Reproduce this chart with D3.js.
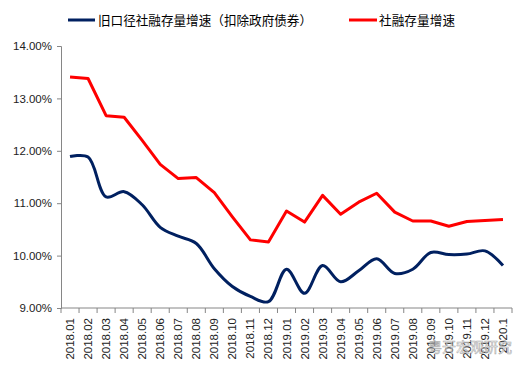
<!DOCTYPE html>
<html><head><meta charset="utf-8">
<script src="https://cdn.jsdelivr.net/npm/d3@7/dist/d3.min.js"></script>
<style>body{margin:0;background:#fff}svg{display:block}</style>
</head><body>
<svg id="c" width="526" height="370"></svg>
<script>
const categories = ["2018.01","2018.02","2018.03","2018.04","2018.05","2018.06","2018.07","2018.08","2018.09","2018.10","2018.11","2018.12",
"2019.01","2019.02","2019.03","2019.04","2019.05","2019.06","2019.07","2019.08","2019.09","2019.10","2019.11","2019.12","2020.1"];
const oldCaliber = [11.89,11.88,11.12,11.22,10.97,10.54,10.37,10.23,9.75,9.41,9.22,9.12,
9.74,9.28,9.81,9.50,9.71,9.94,9.66,9.74,10.06,10.02,10.03,10.09,9.81];
const tsfGrowth = [13.41,13.38,12.67,12.64,12.20,11.74,11.47,11.49,11.20,10.74,10.30,10.26,
10.85,10.64,11.15,10.79,11.02,11.19,10.83,10.66,10.66,10.56,10.65,10.67,10.69];
const yTicks = [9,10,11,12,13,14];
const seriesNames = ["旧口径社融存量增速（扣除政府债券）","社融存量增速"];

const svg = d3.select("#c");
const x = d3.scaleBand().domain(categories).range([61,512]).padding(0);
const y = d3.scaleLinear().domain([9,14]).range([308,46]);
const axisColor = "#868686";
const font = "'Liberation Sans', Arial, sans-serif";

// y axis
const ya = svg.append("g").attr("transform","translate(61,0)")
  .call(d3.axisLeft(y).tickValues(yTicks).tickSize(4).tickPadding(5).tickFormat(d=>d3.format(".2f")(d)+"%"));
ya.select(".domain").attr("stroke",axisColor);
ya.selectAll(".tick line").attr("stroke",axisColor);
ya.selectAll("text").attr("font-family",font).attr("font-size","11.5px").attr("fill","#222");

// x axis
const xa = svg.append("g").attr("transform","translate(0,308)");
xa.append("line").attr("x1",61).attr("x2",512).attr("stroke",axisColor);
const bounds = categories.map(c=>x(c)).concat([x(categories[categories.length-1])+x.bandwidth()]);
xa.selectAll(".tk").data(bounds).join("line").attr("x1",d=>d).attr("x2",d=>d).attr("y1",0).attr("y2",5).attr("stroke",axisColor);
xa.selectAll(".lb").data(categories).join("text")
  .attr("transform",d=>`translate(${x(d)+x.bandwidth()/2+4},10) rotate(-90)`)
  .attr("text-anchor","end").attr("font-family",font).attr("font-size","11.5px").attr("fill","#222").text(d=>d);

// lines
const lineSmooth = d3.line().x((d,i)=>x(categories[i])+x.bandwidth()/2).y(d=>y(d)).curve(d3.curveCatmullRom.alpha(0.5));
const lineStraight = d3.line().x((d,i)=>x(categories[i])+x.bandwidth()/2).y(d=>y(d));
svg.append("path").datum(tsfGrowth).attr("d",lineStraight).attr("fill","none").attr("stroke","#FF0000").attr("stroke-width",3).attr("stroke-linejoin","round");
svg.append("path").datum(oldCaliber).attr("d",lineSmooth).attr("fill","none").attr("stroke","#002060").attr("stroke-width",3).attr("stroke-linejoin","round");

// legend
const cjk = "'Noto Sans CJK SC', sans-serif";
const lg = svg.append("g");
lg.append("line").attr("x1",68).attr("x2",95).attr("y1",20).attr("y2",20).attr("stroke","#002060").attr("stroke-width",3);
lg.append("text").attr("x",98).attr("y",24.5).attr("font-family",cjk).attr("font-size","12.6px").attr("fill","#000")
  .attr("textLength",214).attr("lengthAdjust","spacing").text(seriesNames[0]);
lg.append("line").attr("x1",349).attr("x2",377).attr("y1",20).attr("y2",20).attr("stroke","#FF0000").attr("stroke-width",3);
lg.append("text").attr("x",379).attr("y",24.5).attr("font-family",cjk).attr("font-size","12.6px").attr("fill","#000")
  .attr("textLength",76).attr("lengthAdjust","spacing").text(seriesNames[1]);

// watermark
svg.append("text").attr("x",428).attr("y",352).attr("font-family",cjk).attr("font-size","14px")
  .attr("fill","#fff").attr("stroke","#999").attr("stroke-width",0.6).attr("opacity",0.8).text("粤开宏观研究");
</script>
</body></html>
